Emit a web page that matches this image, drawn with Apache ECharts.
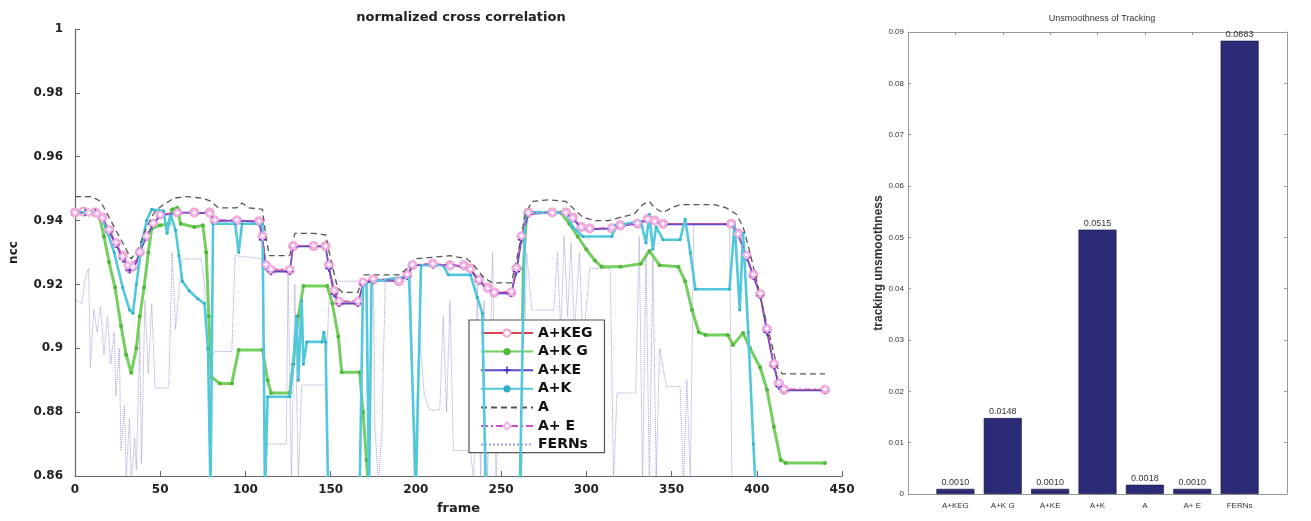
<!DOCTYPE html>
<html>
<head>
<meta charset="utf-8">
<script src="https://cdn.jsdelivr.net/npm/echarts@6/dist/echarts.min.js"></script>
<style>html,body{margin:0;padding:0;background:#fff}#c{width:1311px;height:521px}</style>
</head>
<body>
<div id="c"></div>
<script>
// ---- left panel: normalized cross correlation, [frame, ncc] pairs ----
const seriesNames = ['A+KEG', 'A+K G', 'A+KE', 'A+K', 'A', 'A+ E', 'FERNs'];
const yTicks = [0.86, 0.88, 0.9, 0.92, 0.94, 0.96, 0.98, 1];
const xTicks = [0, 50, 100, 150, 200, 250, 300, 350, 400, 450];

const akeg = [[0,0.9425],[5,0.9428],[12,0.9425],[16,0.941],[20,0.937],[24,0.933],[28,0.929],[32,0.925],[35,0.926],[38,0.930],[42,0.935],[46,0.939],[50,0.942],[60,0.9425],[70,0.9425],[79,0.9425],[82,0.940],[95,0.940],[108,0.9398],[110,0.935],[112,0.926],[115,0.9245],[126,0.9245],[128,0.932],[140,0.932],[147,0.932],[149,0.926],[152,0.918],[155,0.9145],[166,0.9145],[169,0.9205],[175,0.9215],[190,0.921],[195,0.923],[198,0.926],[210,0.9265],[220,0.926],[228,0.926],[232,0.925],[237,0.9215],[242,0.919],[246,0.9175],[256,0.9175],[259,0.925],[262,0.935],[266,0.9425],[280,0.9425],[288,0.9425],[292,0.941],[297,0.938],[302,0.9375],[315,0.9375],[320,0.9385],[330,0.939],[336,0.9405],[340,0.940],[345,0.939],[385,0.939],[389,0.936],[394,0.929],[398,0.923],[402,0.917],[406,0.906],[410,0.895],[413,0.889],[416,0.887],[440,0.887]];

const akg = [[0,0.9425],[10,0.9425],[14,0.942],[17,0.935],[20,0.927],[23.5,0.919],[27,0.907],[30,0.898],[33,0.8923],[36,0.900],[38,0.910],[40.5,0.919],[43,0.930],[45,0.9375],[50,0.9385],[55,0.939],[57,0.9435],[60,0.944],[62,0.939],[70,0.938],[75,0.9385],[77,0.930],[78.5,0.910],[80,0.891],[85,0.889],[92,0.889],[96,0.8995],[110,0.8995],[113,0.890],[115,0.886],[126,0.886],[128,0.895],[131,0.910],[134,0.9195],[148,0.9195],[151,0.914],[154.5,0.9036],[156.5,0.8925],[167,0.8925],[169,0.880],[171,0.865],[173,0.85],[261,0.85],[263,0.925],[265,0.9425],[285,0.9425],[290,0.939],[295,0.935],[300,0.931],[305,0.9275],[309,0.9255],[320,0.9255],[332,0.9265],[337,0.9305],[343,0.926],[354,0.9255],[358,0.921],[362,0.912],[366,0.905],[370,0.9042],[383,0.9042],[386,0.901],[392,0.9048],[396,0.900],[402,0.894],[406,0.887],[410,0.8754],[414,0.865],[417,0.8641],[440,0.8641]];

const ake = [[0,0.9425],[6,0.9425],[12,0.9425],[16,0.9405],[20,0.9365],[24,0.9325],[28,0.928],[32,0.9245],[35,0.9255],[38,0.930],[42,0.935],[46,0.939],[50,0.9415],[60,0.9425],[70,0.9425],[79,0.9422],[82,0.9398],[95,0.940],[108,0.9395],[110,0.934],[112,0.9255],[115,0.924],[126,0.924],[128,0.9318],[140,0.932],[147,0.9318],[149,0.925],[152,0.917],[155,0.914],[166,0.914],[169,0.920],[175,0.9212],[190,0.9212],[195,0.9225],[198,0.926],[210,0.926],[220,0.9262],[228,0.9255],[232,0.9245],[237,0.921],[242,0.9185],[246,0.9172],[256,0.9172],[259,0.924],[262,0.934],[266,0.942],[280,0.9425],[288,0.9422],[292,0.9405],[297,0.9378],[302,0.9372],[315,0.9375],[320,0.9383],[330,0.939],[336,0.9402],[340,0.9398],[345,0.9388],[385,0.9388],[389,0.9355],[394,0.9285],[398,0.9225],[402,0.9165],[406,0.905],[410,0.8945],[413,0.888],[416,0.8868],[440,0.8868]];

const ak = [[0,0.9425],[14,0.9425],[18,0.938],[23,0.930],[28,0.919],[32,0.912],[34,0.911],[36,0.920],[39,0.932],[42,0.940],[45,0.9435],[52,0.943],[54,0.936],[56,0.942],[59,0.937],[61,0.929],[63,0.921],[67,0.918],[72,0.9155],[76,0.914],[78,0.90],[79.5,0.855],[81,0.939],[94,0.939],[96,0.930],[98,0.939],[110,0.939],[111.5,0.855],[113,0.8848],[126,0.8848],[128,0.895],[130,0.91],[131,0.89],[133,0.915],[134,0.895],[136,0.902],[145,0.902],[146,0.905],[147,0.902],[148.5,0.855],[167,0.855],[169,0.9205],[171,0.9205],[172.5,0.855],[174,0.921],[196,0.9225],[200,0.855],[203,0.926],[216,0.926],[219,0.923],[232,0.923],[236,0.916],[239,0.911],[241,0.855],[261,0.855],[264,0.9425],[288,0.9425],[292,0.938],[298,0.935],[315,0.935],[317,0.9385],[332,0.9397],[335,0.933],[337,0.942],[339,0.931],[341,0.938],[345,0.934],[355,0.934],[358,0.9405],[361,0.93],[364,0.9185],[384,0.9185],[387,0.939],[390,0.912],[392,0.936],[395,0.905],[398,0.87],[399.5,0.855],[440,0.855]];

const aOnly = [[0,0.9475],[10,0.9475],[15,0.946],[20,0.941],[25,0.936],[30,0.931],[33,0.928],[37,0.931],[42,0.938],[47,0.943],[52,0.945],[58,0.947],[65,0.9475],[75,0.947],[80,0.946],[84,0.944],[95,0.944],[98,0.9455],[102,0.944],[110,0.9435],[112,0.935],[114,0.929],[126,0.929],[129,0.936],[140,0.936],[147,0.9355],[150,0.928],[154,0.919],[157,0.9175],[166,0.9175],[169,0.923],[190,0.923],[195,0.925],[199,0.928],[210,0.9285],[220,0.929],[230,0.928],[234,0.926],[240,0.922],[245,0.9205],[256,0.9205],[260,0.93],[264,0.9415],[268,0.946],[278,0.9465],[288,0.946],[293,0.9435],[298,0.941],[305,0.940],[313,0.940],[320,0.941],[328,0.942],[333,0.945],[337,0.946],[340,0.944],[345,0.9425],[350,0.944],[355,0.945],[375,0.945],[382,0.944],[388,0.942],[392,0.938],[396,0.93],[400,0.921],[404,0.912],[408,0.903],[412,0.894],[415,0.892],[440,0.892]];

const ae = [[0,0.9425],[8,0.9425],[13,0.9422],[16,0.9408],[20,0.9372],[24,0.9332],[28,0.9288],[31,0.926],[34,0.9255],[38,0.9302],[42,0.9352],[46,0.9392],[50,0.9418],[60,0.9425],[70,0.9425],[79,0.9422],[82,0.9402],[95,0.9402],[108,0.9398],[110,0.9352],[112,0.9262],[115,0.9248],[126,0.9248],[128,0.9322],[140,0.9322],[147,0.932],[149,0.9262],[152,0.9182],[155,0.9148],[166,0.9148],[169,0.9208],[175,0.9218],[190,0.9212],[195,0.9232],[198,0.9262],[210,0.9265],[220,0.9258],[228,0.926],[232,0.9248],[237,0.9215],[242,0.9188],[246,0.9175],[256,0.9178],[259,0.9252],[262,0.9352],[266,0.9425],[280,0.9425],[288,0.9425],[292,0.9408],[297,0.938],[302,0.9375],[315,0.9378],[320,0.9385],[330,0.9392],[336,0.9405],[340,0.9398],[345,0.939],[385,0.939],[389,0.9358],[394,0.9292],[398,0.9232],[402,0.9172],[406,0.9062],[410,0.8952],[413,0.8892],[416,0.8872],[440,0.8872]];

const ferns = [[1,0.915],[4,0.914],[6,0.922],[8,0.925],[9,0.894],[11,0.912],[13,0.905],[15,0.913],[17,0.898],[19,0.91],[21,0.895],[23,0.905],[24,0.885],[26,0.9],[27,0.868],[29,0.882],[30,0.86],[32,0.878],[33,0.858],[35,0.872],[36,0.862],[38,0.905],[39,0.864],[41,0.915],[43,0.892],[45,0.914],[47,0.8876],[55,0.8876],[57,0.93],[59,0.906],[61,0.918],[63,0.928],[74,0.928],[76,0.92],[78,0.895],[82,0.899],[92,0.899],[94,0.929],[110,0.928],[111,0.858],[113,0.87],[124,0.87],[125,0.925],[127,0.858],[129,0.92],[131,0.858],[133,0.8885],[147,0.8885],[149,0.915],[152,0.921],[175,0.921],[176,0.875],[178,0.858],[180,0.873],[182,0.921],[197,0.921],[199,0.858],[202,0.905],[205,0.885],[208,0.8807],[214,0.8807],[216,0.91],[218,0.88],[220,0.915],[222,0.868],[232,0.868],[234,0.858],[236,0.92],[238,0.858],[240,0.915],[242,0.858],[245,0.93],[247,0.858],[250,0.905],[258,0.905],[262,0.858],[265,0.93],[268,0.912],[281,0.912],[283,0.93],[285,0.905],[287,0.935],[289,0.91],[291,0.933],[293,0.905],[296,0.93],[298,0.9],[302,0.925],[314,0.925],[316,0.858],[318,0.886],[329,0.886],[331,0.935],[333,0.858],[335,0.93],[337,0.858],[339,0.928],[341,0.86],[343,0.9],[347,0.888],[355,0.888],[357,0.858],[359,0.89],[361,0.858],[363,0.939],[384,0.939],[385.5,0.85],[440,0.85]];

// ---- right panel: unsmoothness of tracking ----
const barCategories = ['A+KEG', 'A+K G', 'A+KE', 'A+K', 'A', 'A+ E', 'FERNs'];
const barValues = [0.0010, 0.0148, 0.0010, 0.0515, 0.0018, 0.0010, 0.0883];

const FONT = '"Liberation Sans", Arial, sans-serif';
const BFONT = '"DejaVu Sans", sans-serif';
const chart = echarts.init(document.getElementById('c'), null, {renderer: 'canvas'});

const lineBase = {type: 'line', xAxisIndex: 0, yAxisIndex: 0, clip: true, animation: false, showAllSymbol: true};
const hiddenMark = {opacity: 0};

const option = {
  animation: false,
  backgroundColor: '#ffffff',
  title: [
    {text: 'normalized cross correlation', left: 456, top: 6, textAlign: 'center',
     textStyle: {fontFamily: BFONT, fontSize: 13, fontWeight: 'bold', color: '#222'}},
    {text: 'Unsmoothness of Tracking', left: 1097, top: 9, textAlign: 'center',
     textStyle: {fontFamily: FONT, fontSize: 9, fontWeight: 'normal', color: '#333'}}
  ],
  legend: {
    data: seriesNames.map(n => (n === 'A' || n === 'FERNs') ? {name: n, itemStyle: hiddenMark} : {name: n}),
    orient: 'vertical', left: 469, top: 320,
    padding: [6, 12, 1, 11],
    itemWidth: 52, itemHeight: 9, itemGap: 4.6,
    borderColor: '#555', borderWidth: 1.2, backgroundColor: '#fff',
    textStyle: {fontFamily: BFONT, fontSize: 14, fontWeight: 'bold', color: '#111'},
    selectedMode: false
  },
  grid: [
    {left: 73, right: 469, top: 29, bottom: 45, containLabel: false},
    {left: 908, right: 24, top: 32, bottom: 27, containLabel: false}
  ],
  xAxis: [
    {gridIndex: 0, type: 'value', min: xTicks[0], max: xTicks[xTicks.length - 1], interval: 50,
     name: 'frame', nameLocation: 'middle', nameGap: 26,
     nameTextStyle: {fontFamily: BFONT, fontSize: 13, fontWeight: 'bold', color: '#222'},
     axisLine: {onZero: false, lineStyle: {color: '#666', width: 1.2}},
     axisTick: {inside: true, length: 5, lineStyle: {color: '#666'}},
     axisLabel: {fontFamily: BFONT, fontSize: 12, fontWeight: 'bold', color: '#222', margin: 8},
     splitLine: {show: false}},
    {gridIndex: 1, type: 'value', min: 0, max: 8, interval: 1,
     axisLine: {onZero: false, lineStyle: {color: '#999'}},
     axisTick: {inside: true, length: 3, lineStyle: {color: '#999'}},
     axisLabel: {fontFamily: FONT, fontSize: 8, color: '#333', margin: 8,
                 formatter: v => barCategories[v - 1] || ''},
     splitLine: {show: false}},
    {gridIndex: 1, type: 'value', min: 0, max: 8, interval: 1, position: 'top',
     axisLine: {onZero: false, lineStyle: {color: '#999'}},
     axisTick: {inside: true, length: 3, lineStyle: {color: '#999'}},
     axisLabel: {show: false}, splitLine: {show: false}}
  ],
  yAxis: [
    {gridIndex: 0, type: 'value', min: yTicks[0], max: yTicks[yTicks.length - 1], interval: 0.02,
     name: 'ncc', nameLocation: 'middle', nameGap: 55, nameRotate: 90,
     nameTextStyle: {fontFamily: BFONT, fontSize: 12, fontWeight: 'bold', color: '#222'},
     axisLine: {show: true, onZero: false, lineStyle: {color: '#666', width: 1.2}},
     axisTick: {show: true, inside: true, length: 5, lineStyle: {color: '#666'}},
     axisLabel: {fontFamily: BFONT, fontSize: 12, fontWeight: 'bold', color: '#222', margin: 12,
                 formatter: v => String(+v.toFixed(2))},
     splitLine: {show: false}},
    {gridIndex: 1, type: 'value', min: 0, max: 0.09, interval: 0.01,
     name: 'tracking unsmoothness', nameLocation: 'middle', nameGap: 23, nameRotate: 90,
     nameTextStyle: {fontFamily: FONT, fontSize: 12, fontWeight: 'bold', color: '#333'},
     axisLine: {show: true, onZero: false, lineStyle: {color: '#999'}},
     axisTick: {show: true, inside: true, length: 3, lineStyle: {color: '#999'}},
     axisLabel: {fontFamily: FONT, fontSize: 8, color: '#333', margin: 4,
                 formatter: v => String(+v.toFixed(2))},
     splitLine: {show: false}},
    {gridIndex: 1, type: 'value', min: 0, max: 0.09, interval: 0.01, position: 'right',
     axisLine: {show: true, onZero: false, lineStyle: {color: '#999'}},
     axisTick: {show: true, inside: true, length: 3, lineStyle: {color: '#999'}},
     axisLabel: {show: false}, splitLine: {show: false}}
  ],
  series: [
    Object.assign({}, lineBase, {name: 'A+KEG', data: akeg, z: 2,
      symbol: 'emptyCircle', symbolSize: 8,
      lineStyle: {color: '#d8454f', width: 1.2},
      itemStyle: {color: '#f2a0c8', borderColor: '#e0508a', borderWidth: 1.2}}),
    Object.assign({}, lineBase, {name: 'A+K G', data: akg, z: 3,
      symbol: 'circle', symbolSize: 4,
      lineStyle: {color: '#74cf5f', width: 3},
      itemStyle: {color: '#4fb83a'}}),
    Object.assign({}, lineBase, {name: 'A+KE', data: ake, z: 4,
      symbol: 'path://M4,0h2v4h4v2h-4v4h-2v-4h-4v-2h4z', symbolSize: 7,
      lineStyle: {color: '#5a48c8', width: 1.6},
      itemStyle: {color: '#3b2ab8'}}),
    Object.assign({}, lineBase, {name: 'A+K', data: ak, z: 5,
      symbol: 'circle', symbolSize: 3,
      lineStyle: {color: '#52c8dc', width: 2.6},
      itemStyle: {color: '#30b0c8'}}),
    Object.assign({}, lineBase, {name: 'A', data: aOnly, z: 6,
      symbol: 'none',
      lineStyle: {color: '#555', width: 1.3, type: [6, 4]},
      itemStyle: {color: '#555'}}),
    Object.assign({}, lineBase, {name: 'A+ E', data: ae, z: 7,
      symbol: 'emptyDiamond', symbolSize: 7,
      lineStyle: {color: '#c851c8', width: 1.2, type: [7, 3, 2, 3]},
      itemStyle: {color: '#f0b0e8', borderColor: '#c040c0', borderWidth: 1}}),
    Object.assign({}, lineBase, {name: 'FERNs', data: ferns, z: 1,
      symbol: 'none',
      lineStyle: {color: '#a39ad0', width: 1, type: 'dotted'},
      itemStyle: {color: '#a39ad0'}}),
    {type: 'bar', name: 'unsmoothness', xAxisIndex: 1, yAxisIndex: 1,
     data: barCategories.map((c, i) => [i + 1, barValues[i]]),
     barWidth: 38,
     itemStyle: {color: '#2a2a76', borderColor: '#1a1a40', borderWidth: 0.6},
     label: {show: true, position: 'top', distance: 2, fontFamily: FONT, fontSize: 9, color: '#333',
             formatter: p => p.value[1].toFixed(4)}}
  ]
};
chart.setOption(option);
</script>
</body>
</html>
